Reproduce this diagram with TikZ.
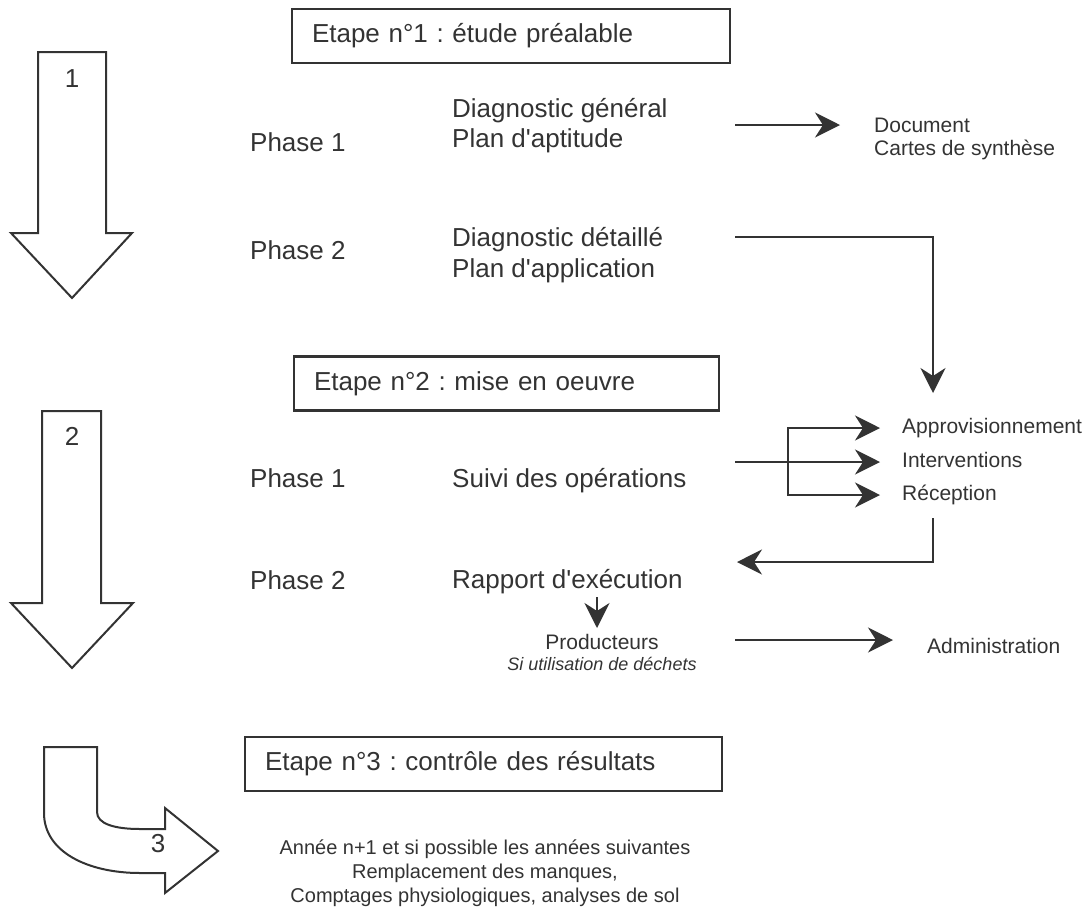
\documentclass[tikz,border=0pt]{standalone}
\usepackage{fontspec}
\setmainfont{Liberation Sans}[Ligatures=TeXOff]
\usetikzlibrary{arrows.meta}
\definecolor{ink}{HTML}{333333}
\frenchspacing
\newcommand\bigtxt{\fontsize{26}{30}\selectfont}
\newcommand\midtxt{\fontsize{21}{24}\selectfont}
\newcommand\smalltxt{\fontsize{20}{24}\selectfont}
\newcommand\notetxt{\fontsize{18}{22}\selectfont\itshape}
\begin{document}
\begin{tikzpicture}[x=1pt,y=-1pt,
  txt/.style={inner sep=0pt, text=ink, font=\bigtxt, anchor=base west},
  result/.style={inner sep=0pt, text=ink, font=\midtxt, anchor=base west},
  stage/.style={draw=ink, line width=2.5pt, text=ink, font=\bigtxt, align=left,
    inner xsep=20pt, inner ysep=0pt, minimum height=54pt},
  bigarrow/.style={draw=ink, line width=2pt, fill=white, line join=miter},
  arr/.style={draw=ink, line width=2pt,
    -{Stealth[length=25pt, width=25pt, inset=8pt]}}
]
\useasboundingbox (0,0) rectangle (1088,906);

% ---- large step arrows on the left
\draw[bigarrow] (38,52) -- (106,52) -- (106,233) -- (132,233) -- (72,298)
  -- (11,233) -- (38,233) -- cycle;
\node[inner sep=0pt, text=ink, font=\bigtxt, anchor=base] (n1) at (72,87) {1};

\draw[bigarrow] (42,411) -- (101,411) -- (101,603) -- (133,603) -- (72,668)
  -- (11,603) -- (42,603) -- cycle;
\node[inner sep=0pt, text=ink, font=\bigtxt, anchor=base] (n2) at (72,445) {2};

\draw[bigarrow] (44,747) -- (97,747) -- (97,812)
  .. controls (97,824) and (115,829) .. (140,829) -- (165,829)
  -- (165,808) -- (218,851) -- (165,893) -- (165,873) -- (140,873)
  .. controls (88,873) and (44,852) .. (44,813) -- cycle;
\node[inner sep=0pt, text=ink, font=\bigtxt, anchor=base] (n3) at (158,852) {3};

% ---- stage headers
\node[stage, text width=398pt] (e1) at (511,36) {Etape n°1 : étude préalable};
\node[stage, text width=385pt] (e2) at (506.5,383.5) {Etape n°2 : mise en oeuvre};
\node[stage, text width=437pt] (e3) at (483.5,764) {Etape n°3 : contrôle des résultats};

% ---- stage 1
\node[txt] (s1p1) at (250,151) {Phase 1};
\node[txt] (dg) at (452,117) {Diagnostic général};
\node[txt] (pa) at (452,147) {Plan d'aptitude};
\node[result] (doc) at (874,132) {Document};
\node[result] (cs) at (874,155) {Cartes de synthèse};

\node[txt] (s1p2) at (250,259) {Phase 2};
\node[txt] (dd) at (452,246) {Diagnostic détaillé};
\node[txt] (pap) at (452,277) {Plan d'application};

% ---- stage 2
\node[txt] (s2p1) at (250,487) {Phase 1};
\node[txt] (so) at (452,487) {Suivi des opérations};
\node[result] (appro) at (902,433) {Approvisionnement};
\node[result] (interv) at (902,467) {Interventions};
\node[result] (recep) at (902,500) {Réception};

\node[txt] (s2p2) at (250,589) {Phase 2};
\node[txt] (re) at (452,588) {Rapport d'exécution};
\node[result, anchor=base] (prod) at (602,649) {Producteurs};
\node[inner sep=0pt, text=ink, font=\notetxt, anchor=base] (dech) at (602,670) {Si utilisation de déchets};
\node[result] (admin) at (927,653) {Administration};

% ---- stage 3
\node[inner sep=0pt, text=ink, font=\smalltxt, align=center, anchor=north] (ctrl) at (485,840)
  {Année n+1 et si possible les années suivantes\\
   Remplacement des manques,\\
   Comptages physiologiques, analyses de sol};

% ---- connector end points
\coordinate (c1a) at (735,125);
\coordinate (c1b) at (840,125);
\coordinate (c2a) at (735,237);
\coordinate (c2b) at (933,237);
\coordinate (c2c) at (933,393);
\coordinate (c3a) at (735,462);
\coordinate (c3b) at (880,462);
\coordinate (br) at (788,462);
\coordinate (bra) at (880,428);
\coordinate (brr) at (880,495);
\coordinate (c4a) at (933,518);
\coordinate (c4b) at (737,562);
\coordinate (c5a) at (597,597);
\coordinate (c5b) at (597,628);
\coordinate (c6a) at (735,640);
\coordinate (c6b) at (893,640);

% ---- connectors
\draw[arr] (c1a) -- (c1b);
\draw[arr] (c2a) -- (c2b) -- (c2c);
\draw[arr] (c3a) -- (c3b);
\draw[arr] (br) |- (bra);
\draw[arr] (br) |- (brr);
\draw[arr] (c4a) |- (c4b);
\draw[arr] (c5a) -- (c5b);
\draw[arr] (c6a) -- (c6b);
\end{tikzpicture}
\end{document}
